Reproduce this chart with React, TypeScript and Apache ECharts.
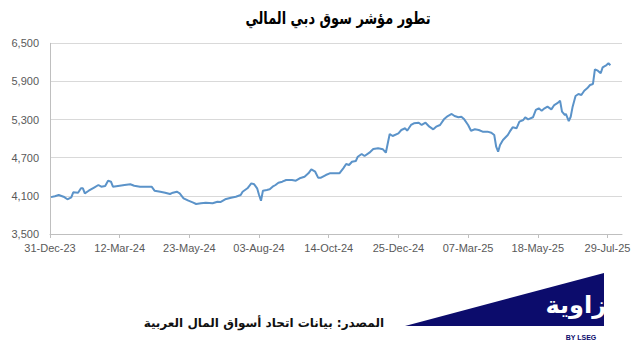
import React, { useEffect, useRef } from "react";
import * as echarts from "echarts";

const titleText = "تطور مؤشر سوق دبي المالي";
const sourceText = "المصدر: بيانات اتحاد أسواق المال العربية";
const logoText = "زاوية";
const logoSub = "BY LSEG";

const startDate = "2023-12-31";
const endDate = "2025-08-13";
const tickDates = [
  "2023-12-31", "2024-03-12", "2024-05-23", "2024-08-03", "2024-10-14",
  "2024-12-25", "2025-03-07", "2025-05-18", "2025-07-29",
];
const yTicks = [3500, 4100, 4700, 5300, 5900, 6500];

const dates = [
  "2024-01-01", "2024-01-05", "2024-01-09", "2024-01-14", "2024-01-18", "2024-01-22", "2024-01-24", "2024-01-29",
  "2024-02-01", "2024-02-03", "2024-02-05", "2024-02-09", "2024-02-15", "2024-02-19", "2024-02-22", "2024-02-26",
  "2024-02-29", "2024-03-03", "2024-03-05", "2024-03-12", "2024-03-17", "2024-03-23", "2024-03-27", "2024-04-02",
  "2024-04-07", "2024-04-14", "2024-04-17", "2024-04-23", "2024-04-28", "2024-05-03", "2024-05-06", "2024-05-10",
  "2024-05-13", "2024-05-17", "2024-05-22", "2024-05-27", "2024-05-30", "2024-06-04", "2024-06-09", "2024-06-16",
  "2024-06-21", "2024-06-24", "2024-06-29", "2024-07-05", "2024-07-10", "2024-07-15", "2024-07-17", "2024-07-22",
  "2024-07-26", "2024-07-29", "2024-08-01", "2024-08-03", "2024-08-05", "2024-08-07", "2024-08-11", "2024-08-14",
  "2024-08-17", "2024-08-20", "2024-08-23", "2024-08-27", "2024-08-31", "2024-09-06", "2024-09-10", "2024-09-14",
  "2024-09-19", "2024-09-23", "2024-09-26", "2024-09-30", "2024-10-03", "2024-10-06", "2024-10-11", "2024-10-15",
  "2024-10-20", "2024-10-25", "2024-10-29", "2024-11-01", "2024-11-04", "2024-11-07", "2024-11-11", "2024-11-13",
  "2024-11-17", "2024-11-20", "2024-11-25", "2024-11-29", "2024-12-04", "2024-12-09", "2024-12-12", "2024-12-14",
  "2024-12-16", "2024-12-19", "2024-12-25", "2024-12-28", "2025-01-01", "2025-01-03", "2025-01-07", "2025-01-10",
  "2025-01-15", "2025-01-18", "2025-01-22", "2025-01-26", "2025-01-30", "2025-02-02", "2025-02-06", "2025-02-10",
  "2025-02-14", "2025-02-18", "2025-02-21", "2025-02-25", "2025-02-28", "2025-03-03", "2025-03-07", "2025-03-10",
  "2025-03-14", "2025-03-18", "2025-03-22", "2025-03-27", "2025-03-31", "2025-04-03", "2025-04-05", "2025-04-07",
  "2025-04-09", "2025-04-12", "2025-04-17", "2025-04-19", "2025-04-22", "2025-04-26", "2025-04-29", "2025-05-03",
  "2025-05-05", "2025-05-08", "2025-05-13", "2025-05-16", "2025-05-19", "2025-05-22", "2025-05-25", "2025-05-28",
  "2025-06-01", "2025-06-04", "2025-06-08", "2025-06-10", "2025-06-12", "2025-06-15", "2025-06-16", "2025-06-19",
  "2025-06-21", "2025-06-23", "2025-06-26", "2025-06-29", "2025-07-02", "2025-07-05", "2025-07-08", "2025-07-11",
  "2025-07-14", "2025-07-16", "2025-07-19", "2025-07-22", "2025-07-24", "2025-07-28", "2025-07-30", "2025-08-01",
];
const values = [
  4080, 4095, 4113, 4087, 4046, 4077, 4156, 4150,
  4219, 4219, 4140, 4181, 4235, 4271, 4244, 4255,
  4339, 4323, 4244, 4260, 4271, 4282, 4260, 4244,
  4244, 4244, 4181, 4165, 4150, 4129, 4150, 4165,
  4140, 4062, 4024, 3993, 3972, 3983, 3993, 3983,
  4008, 4003, 4046, 4071, 4087, 4113, 4165, 4219,
  4297, 4282, 4219, 4113, 4024, 4181, 4192, 4203,
  4244, 4271, 4307, 4323, 4349, 4349, 4339, 4376,
  4401, 4454, 4517, 4480, 4386, 4386, 4428, 4454,
  4454, 4454, 4533, 4601, 4585, 4637, 4648, 4716,
  4758, 4727, 4779, 4837, 4848, 4832, 4779, 4927,
  5073, 5042, 5084, 5136, 5163, 5125, 5215, 5241,
  5251, 5215, 5251, 5188, 5147, 5188, 5215, 5304,
  5356, 5388, 5356, 5336, 5345, 5304, 5215, 5125,
  5147, 5136, 5110, 5110, 5094, 5057, 4873, 4795,
  4900, 4979, 5057, 5110, 5178, 5163, 5267, 5293,
  5336, 5304, 5336, 5451, 5477, 5440, 5477, 5503,
  5461, 5529, 5566, 5597, 5424, 5372, 5388, 5277,
  5345, 5503, 5671, 5702, 5687, 5754, 5792, 5844,
  5860, 6091, 6069, 6028, 6122, 6158, 6185, 6154,
];

const MONTHS = ["Jan", "Feb", "Mar", "Apr", "May", "Jun", "Jul", "Aug", "Sep", "Oct", "Nov", "Dec"];
const DAY = 86400000;
const toUTC = (s: string) => {
  const [y, m, d] = s.split("-").map(Number);
  return Date.UTC(y, m - 1, d);
};
const base = toUTC(startDate);
const toDay = (s: string) => Math.round((toUTC(s) - base) / DAY);
const fmtDay = (n: number) => {
  const dt = new Date(base + n * DAY);
  const dd = String(dt.getUTCDate()).padStart(2, "0");
  const yy = String(dt.getUTCFullYear()).slice(2);
  return `${dd}-${MONTHS[dt.getUTCMonth()]}-${yy}`;
};

export default function App() {
  const ref = useRef<HTMLDivElement>(null);
  useEffect(() => {
    document.body.style.margin = "0";
    if (!ref.current) return;
    const chart = echarts.init(ref.current, null, { renderer: "svg" });
    const tickDays = tickDates.map(toDay);
    const seriesData = dates.map((d, i) => [toDay(d), values[i]]);
    const arabicFont = "'DejaVu Sans', 'Noto Sans', sans-serif";
    chart.setOption({
      animation: false,
      backgroundColor: "#ffffff",
      grid: { left: 50, right: 22, top: 43.3, bottom: 112, containLabel: false, outerBoundsMode: "none" },
      xAxis: {
        type: "value",
        min: 0,
        max: toDay(endDate),
        interval: 72,
        axisLine: { show: true, lineStyle: { color: "#bfbfbf", width: 1 } },
        axisTick: { show: true, length: 4, lineStyle: { color: "#bfbfbf" }, customValues: tickDays },
        axisLabel: {
          customValues: tickDays,
          formatter: (v: number) => fmtDay(v),
          color: "#595959",
          fontSize: 11,
          fontFamily: "'Liberation Sans', Arial, sans-serif",
          margin: 8,
        },
        splitLine: { show: false },
      },
      yAxis: {
        type: "value",
        min: yTicks[0],
        max: yTicks[yTicks.length - 1],
        interval: yTicks[1] - yTicks[0],
        axisLine: { show: true, lineStyle: { color: "#bfbfbf", width: 1 } },
        axisTick: { show: false },
        axisLabel: {
          formatter: (v: number) => v.toLocaleString("en-US"),
          color: "#595959",
          fontSize: 11,
          fontFamily: "'Liberation Sans', Arial, sans-serif",
          margin: 11,
        },
        splitLine: { show: true, lineStyle: { color: "#d9d9d9", width: 1 } },
      },
      series: [
        {
          type: "line",
          data: seriesData,
          showSymbol: false,
          symbol: "none",
          lineStyle: { color: "#5b93c9", width: 2 },
          itemStyle: { color: "#5b93c9" },
        },
      ],
      graphic: [
        {
          type: "text",
          x: 338,
          y: 18,
          scaleX: 0.76,
          style: {
            text: titleText,
            font: `bold 17px ${arabicFont}`,
            fill: "#000000",
            align: "center",
            verticalAlign: "middle",
          },
        },
        {
          type: "text",
          x: 384,
          y: 323,
          style: {
            text: sourceText,
            font: `bold 12px ${arabicFont}`,
            fill: "#111111",
            align: "right",
            verticalAlign: "middle",
          },
        },
        {
          type: "polygon",
          shape: { points: [[405, 326], [604, 273], [604, 326]] },
          style: { fill: "#0c0c6c" },
        },
        {
          type: "text",
          x: 606,
          y: 305,
          style: {
            text: logoText,
            font: `bold 24px ${arabicFont}`,
            fill: "#ffffff",
            align: "right",
            verticalAlign: "middle",
          },
        },
        {
          type: "text",
          x: 581,
          y: 337,
          style: {
            text: logoSub,
            font: `bold 7px 'Liberation Sans', Arial, sans-serif`,
            fill: "#0c0c6c",
            align: "center",
            verticalAlign: "middle",
          },
        },
      ],
    });
    return () => chart.dispose();
  }, []);
  return <div ref={ref} style={{ width: 644, height: 346 }} />;
}
